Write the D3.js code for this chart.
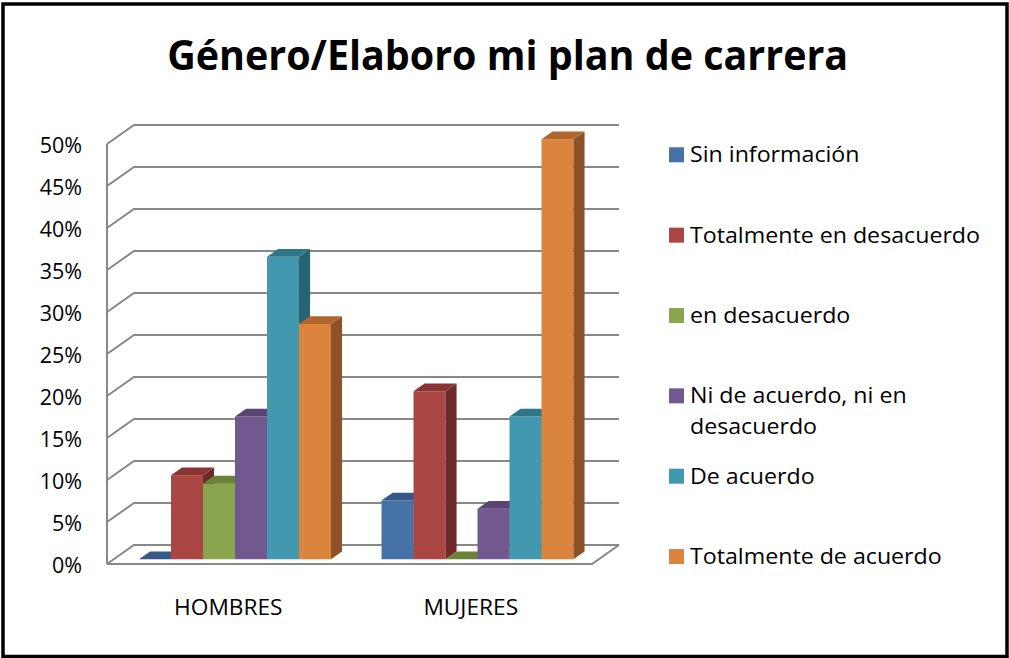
<!DOCTYPE html>
<html>
<head>
<meta charset="utf-8">
<script src="https://cdn.jsdelivr.net/npm/d3@7"></script>
<style>
  html, body { margin: 0; padding: 0; background: #fff; }
  svg { display: block; }
  text { font-family: "Open Sans", "Noto Sans", sans-serif; fill: #000; }
</style>
</head>
<body>
<svg id="chart" width="1009" height="658"></svg>
<script>
// ---------- data ----------
const categories = ["HOMBRES", "MUJERES"];
const seriesNames = [
  "Sin información",
  "Totalmente en desacuerdo",
  "en desacuerdo",
  "Ni de acuerdo, ni en desacuerdo",
  "De acuerdo",
  "Totalmente de acuerdo"
];
const sinInformacion          = [0, 7];
const totalmenteEnDesacuerdo  = [10, 20];
const enDesacuerdo            = [9, 0];
const niDeAcuerdoNiDesacuerdo = [17, 6];
const deAcuerdo               = [36, 17];
const totalmenteDeAcuerdo     = [28, 50];
const yTickValues = [0, 5, 10, 15, 20, 25, 30, 35, 40, 45, 50];
const titleText = "Género/Elaboro mi plan de carrera";

const seriesValues = [sinInformacion, totalmenteEnDesacuerdo, enDesacuerdo,
                      niDeAcuerdoNiDesacuerdo, deAcuerdo, totalmenteDeAcuerdo];

// ---------- styles ----------
const faceColors = [
  { front: "#4672A8", top: "#36598A", side: "#2D4A70" },
  { front: "#AA4643", top: "#8A3533", side: "#6E2A29" },
  { front: "#89A54E", top: "#6B8239", side: "#55692C" },
  { front: "#71588F", top: "#594571", side: "#46365A" },
  { front: "#4198AF", top: "#2F7689", side: "#276473" },
  { front: "#DB843D", top: "#B0662C", side: "#8E5228" }
];
const gridColor = "#888888";

// ---------- layout ----------
const svg = d3.select("#chart");
const W = 1009, H = 658;
svg.append("rect").attr("x", 0).attr("y", 0).attr("width", W).attr("height", H).attr("fill", "#fff");

const DX = 27, DY = -19;          // full depth offset of the 3D box
const barF0 = 0.25, barF1 = 0.66; // bar depth span (fraction of box depth)

const x0 = d3.scaleBand().domain(categories).range([107, 592]).paddingInner(0).paddingOuter(0);
const x1 = d3.scaleBand().domain(d3.range(seriesNames.length))
  .range([0, x0.bandwidth()]).paddingInner(0).paddingOuter(0.79);
const y = d3.scaleLinear().domain([0, 50]).range([564, 144]);

const P = (x, yy, f) => [x + DX * f, yy + DY * f];
const poly = pts => pts.map(p => p.join(",")).join(" ");

const walls = svg.append("g");
// back wall + side wall gridlines
yTickValues.forEach(t => {
  const a = P(x0.range()[0], y(t), 0), b = P(x0.range()[0], y(t), 1), c = P(x0.range()[1], y(t), 1);
  walls.append("polyline").attr("points", poly([a, b, c]))
    .attr("fill", "none").attr("stroke", gridColor).attr("stroke-width", 2);
});
// floor front edge and right edge
{
  const a = P(x0.range()[0], y(0), 0), b = P(x0.range()[1], y(0), 0), c = P(x0.range()[1], y(0), 1);
  walls.append("polyline").attr("points", poly([a, b, c]))
    .attr("fill", "none").attr("stroke", gridColor).attr("stroke-width", 2);
  // front vertical axis
  walls.append("line").attr("x1", x0.range()[0]).attr("x2", x0.range()[0])
    .attr("y1", y(0)).attr("y2", y(50)).attr("stroke", gridColor).attr("stroke-width", 2);
}

// y axis labels
svg.append("g").selectAll("text").data(yTickValues).join("text")
  .attr("x", 82).attr("y", d => y(d) + 8.5)
  .attr("text-anchor", "end").attr("font-size", 21.5)
  .text(d => d + "%");

// bars
const bars = svg.append("g");
categories.forEach((cat, ci) => {
  seriesNames.forEach((s, si) => {
    const v = seriesValues[si][ci];
    const xl = x0(cat) + x1(si), xr = xl + x1.bandwidth();
    const yb = y(0), yt = y(v);
    const col = faceColors[si];
    const g = bars.append("g");
    g.append("polygon").attr("points", poly([P(xl, yb, barF0), P(xr, yb, barF0), P(xr, yt, barF0), P(xl, yt, barF0)]))
      .attr("fill", col.front);
    g.append("polygon").attr("points", poly([P(xr, yb, barF0), P(xr, yb, barF1), P(xr, yt, barF1), P(xr, yt, barF0)]))
      .attr("fill", col.side);
    g.append("polygon").attr("points", poly([P(xl, yt, barF0), P(xr, yt, barF0), P(xr, yt, barF1), P(xl, yt, barF1)]))
      .attr("fill", col.top);
  });
});

// category labels
const catLabels = svg.append("g").selectAll("text").data(categories).join("text")
  .attr("x", d => x0(d) + x0.bandwidth() / 2).attr("y", 615)
  .attr("text-anchor", "middle").attr("font-size", 22)
  .text(d => d);
{
  const k = 108.5 / catLabels.nodes()[0].getComputedTextLength();
  catLabels.each(function () {
    const w = this.getComputedTextLength();
    d3.select(this).attr("textLength", w * k).attr("lengthAdjust", "spacingAndGlyphs");
  });
}

// title
const title = svg.append("text").attr("x", 507.7).attr("y", 70).attr("text-anchor", "middle")
  .attr("font-size", 42).attr("font-weight", "bold").text(titleText);
title.attr("textLength", 681).attr("lengthAdjust", "spacingAndGlyphs");

// legend
const legend = svg.append("g");
const legendLines = [
  ["Sin información"],
  ["Totalmente en desacuerdo"],
  ["en desacuerdo"],
  ["Ni de acuerdo, ni en", "desacuerdo"],
  ["De acuerdo"],
  ["Totalmente de acuerdo"]
];
seriesNames.forEach((s, i) => {
  const base = 162.3 + 80.35 * i;
  legend.append("rect").attr("x", 669).attr("y", base - 15).attr("width", 15).attr("height", 15)
    .attr("fill", faceColors[i].front);
  const t = legend.append("text").attr("x", 690).attr("y", base).attr("font-size", 21.5);
  legendLines[i].forEach((ln, li) => {
    t.append("tspan").attr("x", 690).attr("y", base + li * 31).text(ln);
  });
});
{
  const ref = legend.selectAll("tspan").filter(function () { return this.textContent === "Totalmente en desacuerdo"; }).node();
  const legendK = 290 / ref.getComputedTextLength();
  legend.selectAll("tspan").each(function () {
    const w = this.getComputedTextLength();
    d3.select(this).attr("textLength", w * legendK).attr("lengthAdjust", "spacingAndGlyphs");
  });
}

// outer border
svg.append("rect").attr("x", 3).attr("y", 4).attr("width", 1004).attr("height", 652.5)
  .attr("fill", "none").attr("stroke", "#000").attr("stroke-width", 3.5);
</script>
</body>
</html>
